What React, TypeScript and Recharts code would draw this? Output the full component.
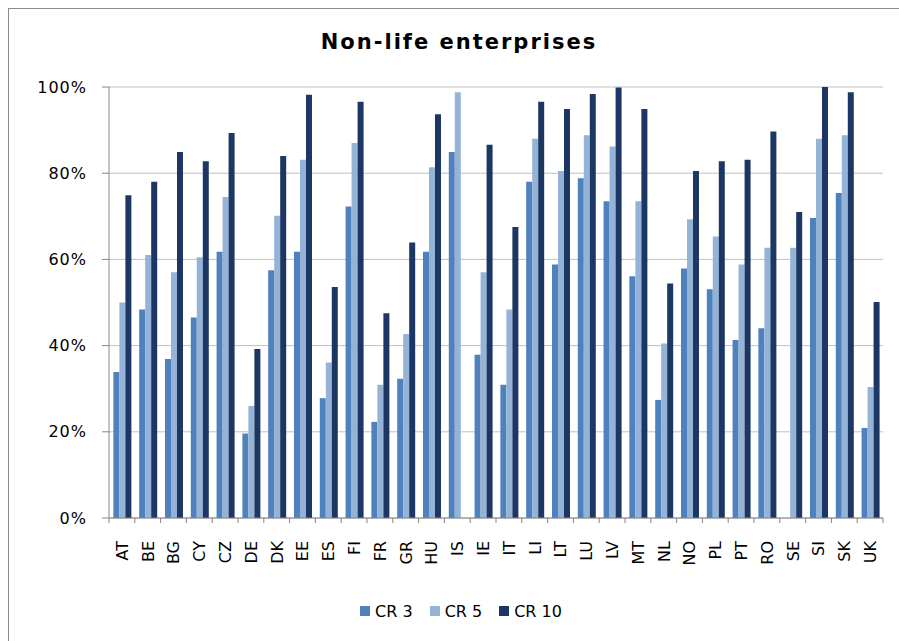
import { Bar, BarChart, CartesianGrid, Legend, XAxis, YAxis } from 'recharts'

const countries = [
  'AT', 'BE', 'BG', 'CY', 'CZ', 'DE', 'DK', 'EE', 'ES', 'FI',
  'FR', 'GR', 'HU', 'IS', 'IE', 'IT', 'LI', 'LT', 'LU', 'LV',
  'MT', 'NL', 'NO', 'PL', 'PT', 'RO', 'SE', 'SI', 'SK', 'UK',
]

const cr3 = [
  33.9, 48.4, 36.9, 46.5, 61.8, 19.6, 57.5, 61.8, 27.8, 72.3,
  22.3, 32.3, 61.8, 84.9, 37.9, 30.9, 78.0, 58.8, 78.8, 73.5,
  56.1, 27.4, 57.9, 53.1, 41.3, 44.0, null, 69.6, 75.4, 20.9,
]

const cr5 = [
  50.0, 61.0, 57.0, 60.5, 74.5, 26.0, 70.1, 83.1, 36.1, 87.0,
  30.9, 42.7, 81.4, 98.8, 57.0, 48.4, 88.0, 80.5, 88.8, 86.2,
  73.5, 40.5, 69.3, 65.3, 58.8, 62.7, 62.7, 88.0, 88.8, 30.4,
]

const cr10 = [
  74.9, 78.0, 84.9, 82.8, 89.3, 39.2, 84.0, 98.2, 53.6, 96.6,
  47.5, 63.9, 93.7, null, 86.6, 67.5, 96.6, 94.9, 98.4, 99.9,
  94.9, 54.4, 80.5, 82.8, 83.1, 89.7, 71.0, 100, 98.8, 50.1,
]

const yTicks = [0, 20, 40, 60, 80, 100]

const series = [
  { key: 'CR 3', color: '#4f81bd' },
  { key: 'CR 5', color: '#95b3d7' },
  { key: 'CR 10', color: '#1c3763' },
]

const data = countries.map((c, i) => ({
  country: c,
  'CR 3': cr3[i],
  'CR 5': cr5[i],
  'CR 10': cr10[i],
}))

const FONT = '"DejaVu Sans", Verdana, sans-serif'
const CHART_W = 890
const CHART_H = 632
const MARGIN = { top: 78, right: 16, bottom: 18, left: 0 }
const Y_WIDTH = 100
const BAND = (CHART_W - MARGIN.right - MARGIN.left - Y_WIDTH) / countries.length
const AXIS_GREY = '#868686'

// labels read upward; the small ticks sit on the category boundaries
function CountryTick(props: any) {
  const { x, y, payload, index } = props
  const axisY = y - 5
  const half = BAND / 2
  return (
    <g>
      <line x1={x - half} y1={axisY} x2={x - half} y2={axisY + 5} stroke={AXIS_GREY} />
      {index === countries.length - 1 && (
        <line x1={x + half} y1={axisY} x2={x + half} y2={axisY + 5} stroke={AXIS_GREY} />
      )}
      <text
        transform={`translate(${x + 5.8},${y + 18}) rotate(-90)`}
        textAnchor="end"
        fontSize={16}
        fontFamily={FONT}
        fill="#000"
      >
        {payload.value}
      </text>
    </g>
  )
}

function LegendContent() {
  return (
    <div
      style={{
        display: 'flex',
        justifyContent: 'center',
        alignItems: 'center',
        gap: 17,
        paddingLeft: 30,
        height: 24,
        fontFamily: FONT,
        fontSize: 16,
        color: '#000',
      }}
    >
      {series.map((s) => (
        <span key={s.key} style={{ display: 'flex', alignItems: 'center' }}>
          <span style={{ width: 10, height: 10, background: s.color, marginRight: 5 }} />
          {s.key}
        </span>
      ))}
    </div>
  )
}

export default function App() {
  return (
    <div
      style={{
        position: 'absolute',
        left: 8,
        top: 8,
        width: 891,
        height: 633,
        boxSizing: 'border-box',
        borderTop: '1px solid #8c8c8c',
        borderLeft: '1px solid #8c8c8c',
        fontFamily: FONT,
        overflow: 'hidden',
      }}
    >
      <div
        style={{
          position: 'absolute',
          left: 0,
          top: 21,
          width: 900,
          textAlign: 'center',
          fontSize: 21,
          letterSpacing: 2,
          lineHeight: '24px',
          fontWeight: 'bold',
          color: '#000',
        }}
      >
        Non-life enterprises
      </div>
      <BarChart
        width={CHART_W}
        height={CHART_H}
        data={data}
        margin={MARGIN}
        barCategoryGap="17%"
        barGap={0}
      >
        <CartesianGrid vertical={false} stroke="#c0c0c0" />
        <XAxis
          dataKey="country"
          interval={0}
          height={81}
          tickLine={false}
          tickSize={5}
          tickMargin={0}
          axisLine={{ stroke: AXIS_GREY }}
          tick={<CountryTick />}
        />
        <YAxis
          width={Y_WIDTH}
          domain={[0, 100]}
          ticks={yTicks}
          tickFormatter={(v) => `${v}%`}
          tickSize={7}
          tickMargin={15}
          axisLine={{ stroke: AXIS_GREY }}
          tickLine={{ stroke: AXIS_GREY }}
          tick={{ fill: '#000', fontSize: 16, fontFamily: FONT, letterSpacing: 1 }}
        />
        <Legend verticalAlign="bottom" height={24} content={<LegendContent />} />
        {series.map((s) => (
          <Bar key={s.key} dataKey={s.key} fill={s.color} isAnimationActive={false} />
        ))}
      </BarChart>
    </div>
  )
}
